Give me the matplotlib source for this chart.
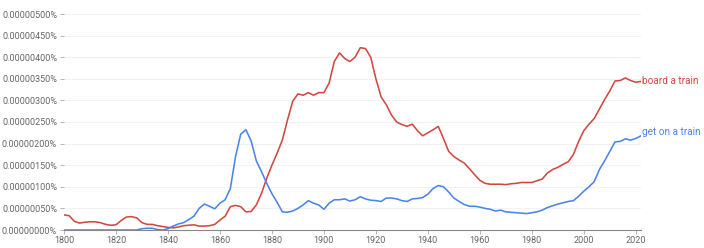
import matplotlib
matplotlib.use('Agg')
import matplotlib.pyplot as plt
from matplotlib.ticker import FuncFormatter

plt.rcParams['font.family'] = ['Roboto', 'DejaVu Sans']

years = list(range(1800, 2023, 2))

# values in units of 1e-8 %
board_a_train = [
    35, 33, 20, 16, 18, 19, 19, 17, 13, 11,
    12, 22, 30, 31, 28, 17, 13, 13, 10, 8,
    6, 5, 7, 10, 11, 12, 9, 9, 10, 13,
    23, 32, 54, 57, 54, 42, 43, 58, 85, 120,
    150, 178, 208, 255, 298, 315, 312, 318, 312, 318,
    318, 340, 390, 410, 397, 390, 400, 422, 420, 400,
    350, 308, 290, 266, 250, 244, 240, 245, 230, 218,
    225, 232, 240, 212, 182, 170, 162, 155, 142, 128,
    115, 108, 106, 106, 106, 105, 107, 108, 110, 110,
    110, 114, 118, 132, 140, 145, 152, 158, 175, 205,
    230, 245, 258, 280, 302, 322, 345, 346, 352, 346,
    342, 344,
]
get_on_a_train = [
    0, 0, 0, 0, 0, 0, 0, 0, 0, 0,
    0, 0, 0, 0, 0, 3, 4, 4, 1, 0,
    3, 9, 14, 17, 24, 32, 50, 60, 55, 49,
    62, 70, 96, 170, 222, 232, 206, 160, 135, 108,
    84, 64, 42, 41, 44, 50, 58, 68, 62, 58,
    48, 62, 70, 70, 72, 67, 70, 77, 72, 69,
    68, 66, 74, 74, 72, 68, 66, 72, 73, 75,
    83, 96, 103, 100, 88, 74, 66, 59, 55, 55,
    53, 50, 48, 44, 46, 42, 41, 40, 39, 38,
    40, 42, 46, 52, 56, 60, 63, 66, 68, 78,
    90, 100, 112, 140, 160, 182, 204, 205, 211, 208,
    212, 218,
]

red = '#d1493f'
blue = '#4a86e8'

fig = plt.figure(figsize=(7.04, 2.48), dpi=100)
ax = fig.add_axes([64 / 704, 1 - 230 / 248, 577 / 704, 216 / 248])

ax.plot(years, board_a_train, color=red, linewidth=1.15)
ax.plot(years, get_on_a_train, color=blue, linewidth=1.15)

ax.set_xlim(1800, 2022)
ax.set_ylim(0, 500)
ax.set_xticks(range(1800, 2021, 20))
ax.set_yticks(range(0, 501, 50))
ax.yaxis.set_major_formatter(FuncFormatter(lambda v, p: '%.8f%%' % (v * 1e-8)))
ax.grid(axis='y', color='#f2f2f2', linewidth=0.8)
ax.set_axisbelow(True)
for s in ['top', 'right', 'left']:
    ax.spines[s].set_visible(False)
ax.spines['bottom'].set_color('#888888')
ax.spines['bottom'].set_linewidth(0.8)
ax.tick_params(axis='y', length=3, width=0.6, color='#aaaaaa', labelsize=6.5, labelcolor='#666666', pad=2)
ax.tick_params(axis='x', length=3, width=0.6, color='#aaaaaa', labelsize=6.5, labelcolor='#666666', pad=1.5)

ax.text(2022.5, board_a_train[-1], 'board a train', color=red, fontsize=7.2, va='center', ha='left', clip_on=False)
ax.text(2022.5, get_on_a_train[-1] + 8, 'get on a train', color=blue, fontsize=7.2, va='center', ha='left', clip_on=False)

fig.savefig('out.png', dpi=100)
